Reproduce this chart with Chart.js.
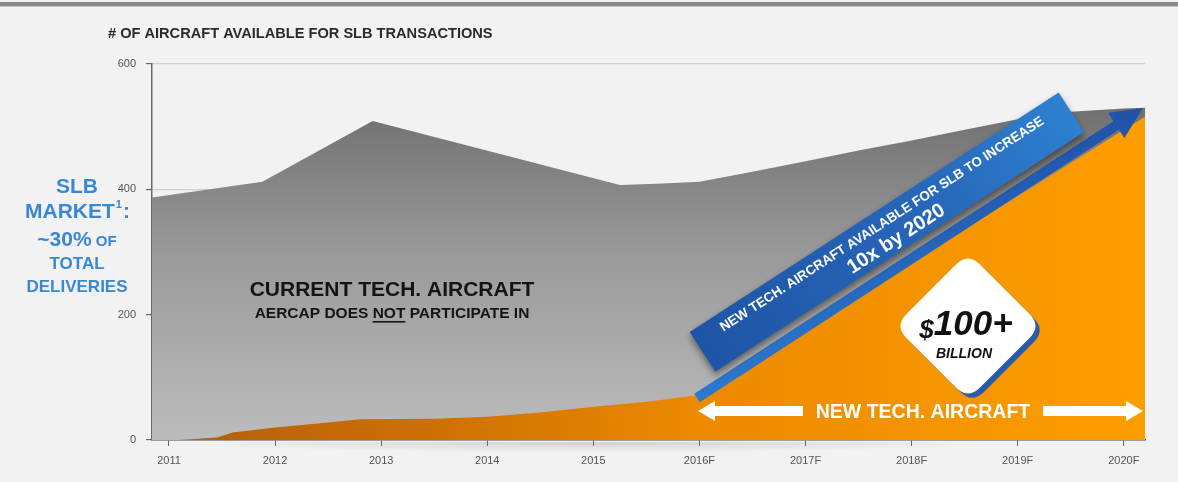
<!DOCTYPE html>
<html>
<head>
<meta charset="utf-8">
<script src="https://cdn.jsdelivr.net/npm/chart.js@4.4.1/dist/chart.umd.min.js"></script>
<style>
  html, body { margin: 0; padding: 0; background: #f2f2f2; }
  canvas { display: block; }
</style>
</head>
<body>
<canvas id="slb" width="1178" height="482"></canvas>
<script>
// x axis: one tick per year, forecast years marked with F
const yearTicks = [2011, 2012, 2013, 2014, 2015, 2016, 2017, 2018, 2019, 2020];
const yearLabels = ['2011', '2012', '2013', '2014', '2015', '2016F', '2017F', '2018F', '2019F', '2020F'];
const yAxisTicks = [0, 200, 400, 600];

// total aircraft available for SLB (grey area)
const totalYears = [2010.84, 2011.88, 2012.92, 2015.25, 2015.6, 2016, 2016.5, 2017, 2017.5, 2018, 2018.5, 2019, 2019.5, 2020, 2020.2];
const totalCounts = [387, 412, 509, 407, 409, 412, 428, 445, 462, 478, 495, 512, 524, 529, 530];

// new tech aircraft (orange area)
const newTechYears = [2010.84, 2011.1, 2011.45, 2011.6, 2012, 2012.5, 2012.8, 2013.5, 2014, 2014.5, 2015, 2015.5, 2016, 2017, 2018, 2019, 2020, 2020.2];
const newTechCounts = [0, 0, 4, 12, 20, 28, 33, 34, 37, 44, 53, 61, 72, 178, 284, 389, 495, 516];

const FONT = '"Liberation Sans", Arial, sans-serif';
const BLUE_TEXT = '#3a87d6';

function toPoints(xs, ys) {
    return xs.map((x, i) => ({ x: x, y: ys[i] }));
}

function greyFill(context) {
    const chart = context.chart;
    const area = chart.chartArea;
    if (!area) return '#999';
    const g = chart.ctx.createLinearGradient(0, area.top + 40, 0, area.bottom);
    g.addColorStop(0, '#6f6f6f');
    g.addColorStop(0.45, '#9a9a9a');
    g.addColorStop(1, '#bcbcbc');
    return g;
}

function orangeFill(context) {
    const chart = context.chart;
    const area = chart.chartArea;
    if (!area) return '#f90';
    const g = chart.ctx.createLinearGradient(area.left, 0, area.right, 0);
    g.addColorStop(0, '#b25c0c');
    g.addColorStop(0.3, '#cf7203');
    g.addColorStop(0.55, '#ec8a00');
    g.addColorStop(1, '#fd9e00');
    return g;
}

function roundRect(c, x, y, w, h, r) {
    c.beginPath();
    c.moveTo(x + r, y);
    c.lineTo(x + w - r, y);
    c.quadraticCurveTo(x + w, y, x + w, y + r);
    c.lineTo(x + w, y + h - r);
    c.quadraticCurveTo(x + w, y + h, x + w - r, y + h);
    c.lineTo(x + r, y + h);
    c.quadraticCurveTo(x, y + h, x, y + h - r);
    c.lineTo(x, y + r);
    c.quadraticCurveTo(x, y, x + r, y);
    c.closePath();
}

// white horizontal arrow, dir = -1 points left, 1 points right
function whiteArrow(c, xFrom, xTip, yc, dir) {
    const headLen = 17;
    const headX = xTip - dir * headLen;
    c.beginPath();
    c.moveTo(xFrom, yc - 5);
    c.lineTo(headX, yc - 5);
    c.lineTo(headX, yc - 10);
    c.lineTo(xTip, yc);
    c.lineTo(headX, yc + 10);
    c.lineTo(headX, yc + 5);
    c.lineTo(xFrom, yc + 5);
    c.closePath();
    c.fill();
}

const backdrop = {
    id: 'backdrop',
    beforeDraw(chart) {
        const c = chart.ctx;
        c.save();
        c.fillStyle = '#f2f2f2';
        c.fillRect(0, 0, chart.width, chart.height);
        c.fillStyle = '#8a8a8a';
        c.fillRect(0, 2, chart.width, 4);
        c.fillStyle = '#c8c8c8';
        c.fillRect(0, 6, chart.width, 1);

        // soft shadow under the baseline, fading at both ends
        const a = chart.chartArea;
        c.save();
        c.translate((a.left + a.right) / 2 - 60, a.bottom + 2);
        c.scale(1, 0.025);
        const sh = c.createRadialGradient(0, 0, 0, 0, 0, 420);
        sh.addColorStop(0, 'rgba(0,0,0,0.14)');
        sh.addColorStop(1, 'rgba(0,0,0,0)');
        c.fillStyle = sh;
        c.fillRect(-420, 0, 840, 420);
        c.restore();

        // title
        c.fillStyle = '#2b2b2b';
        c.font = 'bold 14.6px ' + FONT;
        c.textBaseline = 'alphabetic';
        c.fillText('# OF AIRCRAFT AVAILABLE FOR SLB TRANSACTIONS', 108, 38);

        // side note in blue
        c.fillStyle = BLUE_TEXT;
        c.textAlign = 'center';
        c.font = 'bold 21px ' + FONT;
        c.fillText('SLB', 77, 193);
        c.textAlign = 'left';
        const m1 = 'MARKET';
        const w1 = c.measureText(m1).width;
        c.font = 'bold 11px ' + FONT;
        const wSup = c.measureText('1').width;
        c.font = 'bold 21px ' + FONT;
        const wCol = c.measureText(':').width;
        let sx = 77 - (w1 + wSup + 1 + wCol) / 2;
        c.fillText(m1, sx, 218);
        c.font = 'bold 11px ' + FONT;
        c.fillText('1', sx + w1 + 1, 208);
        c.font = 'bold 21px ' + FONT;
        c.fillText(':', sx + w1 + wSup + 2, 218);

        c.font = 'bold 21px ' + FONT;
        const p1 = '~30%';
        const wp1 = c.measureText(p1).width;
        c.font = 'bold 15px ' + FONT;
        const p2 = ' OF';
        const wp2 = c.measureText(p2).width;
        sx = 77 - (wp1 + wp2) / 2;
        c.font = 'bold 21px ' + FONT;
        c.fillText(p1, sx, 246);
        c.font = 'bold 15px ' + FONT;
        c.fillText(p2, sx + wp1, 246);

        c.textAlign = 'center';
        c.font = 'bold 17px ' + FONT;
        c.fillText('TOTAL', 77, 269);
        c.fillText('DELIVERIES', 77, 292);
        c.restore();
    }
};

const callouts = {
    id: 'callouts',
    afterDatasetsDraw(chart) {
        const c = chart.ctx;
        c.save();

        // label inside the grey area
        c.fillStyle = '#141414';
        c.textAlign = 'center';
        c.font = 'bold 21px ' + FONT;
        c.fillText('CURRENT TECH. AIRCRAFT', 392, 296);
        c.font = 'bold 15.5px ' + FONT;
        c.textAlign = 'left';
        const s1 = 'AERCAP DOES ', s2 = 'NOT', s3 = ' PARTICIPATE IN';
        const w1 = c.measureText(s1).width, w2 = c.measureText(s2).width, w3 = c.measureText(s3).width;
        let x0 = 392 - (w1 + w2 + w3) / 2;
        c.fillText(s1, x0, 318);
        c.fillText(s2, x0 + w1, 318);
        c.fillText(s3, x0 + w1 + w2, 318);
        c.fillRect(x0 + w1, 321, w2, 1.6);

        // growth arrow along the orange edge
        const ang = Math.atan2(108 - 398, 1143 - 697);
        const len = Math.hypot(1143 - 697, 108 - 398);
        c.save();
        c.translate(697, 398);
        c.rotate(ang);
        const ag = c.createLinearGradient(0, 0, len, 0);
        ag.addColorStop(0, '#2b79cd');
        ag.addColorStop(1, '#2152a8');
        c.fillStyle = ag;
        c.beginPath();
        c.moveTo(0, -5);
        c.lineTo(len - 32, -5);
        c.lineTo(len - 32, -15);
        c.lineTo(len, 0);
        c.lineTo(len - 32, 15);
        c.lineTo(len - 32, 5);
        c.lineTo(0, 5);
        c.closePath();
        c.fill();
        c.restore();

        // rotated banner
        c.save();
        c.translate(887, 232);
        c.rotate(-33 * Math.PI / 180);
        c.shadowColor = 'rgba(0,0,0,0.45)';
        c.shadowBlur = 7;
        c.shadowOffsetY = 4;
        const bg = c.createLinearGradient(-220, 0, 220, 0);
        bg.addColorStop(0, '#1f55a6');
        bg.addColorStop(0.6, '#2766b9');
        bg.addColorStop(1, '#2e80d0');
        c.fillStyle = bg;
        c.fillRect(-220, -23.5, 440, 47);
        c.shadowColor = 'transparent';
        c.fillStyle = '#ffffff';
        c.textAlign = 'center';
        c.textBaseline = 'middle';
        c.font = 'bold 13.4px ' + FONT;
        c.fillText('NEW TECH. AIRCRAFT AVAILABLE FOR SLB TO INCREASE', 0, -9);
        c.font = 'bold 20px ' + FONT;
        c.fillText('10x by 2020', 4, 11);
        c.restore();

        // $100+ badge
        c.save();
        c.translate(968, 326);
        c.rotate(Math.PI / 4);
        c.fillStyle = '#2c5aa8';
        roundRect(c, -52 + 6, -52 + 0, 104, 104, 17);
        c.fill();
        c.fillStyle = '#ffffff';
        roundRect(c, -52, -52, 104, 104, 17);
        c.fill();
        c.restore();

        c.fillStyle = '#111111';
        c.textBaseline = 'alphabetic';
        c.textAlign = 'left';
        c.font = 'italic bold 26px ' + FONT;
        const wd = c.measureText('$').width;
        c.font = 'italic bold 35px ' + FONT;
        const wn = c.measureText('100+').width;
        const bx = 966 - (wd + wn) / 2;
        c.font = 'italic bold 26px ' + FONT;
        c.fillText('$', bx, 338);
        c.font = 'italic bold 35px ' + FONT;
        c.fillText('100+', bx + wd, 335);
        c.textAlign = 'center';
        c.font = 'italic bold 14px ' + FONT;
        c.fillText('BILLION', 964, 358);

        // new tech span arrows
        c.fillStyle = '#ffffff';
        whiteArrow(c, 803, 698, 411, -1);
        whiteArrow(c, 1043, 1143, 411, 1);
        c.font = 'bold 19.5px ' + FONT;
        c.textAlign = 'center';
        c.fillText('NEW TECH. AIRCRAFT', 923, 418);

        c.restore();
    }
};

const chart = new Chart(document.getElementById('slb'), {
    type: 'line',
    data: {
        datasets: [
            {
                label: 'New tech. aircraft',
                data: toPoints(newTechYears, newTechCounts),
                fill: 'origin',
                backgroundColor: orangeFill,
                borderWidth: 0,
                pointRadius: 0,
                tension: 0
            },
            {
                label: 'Total aircraft available',
                data: toPoints(totalYears, totalCounts),
                fill: 'origin',
                backgroundColor: greyFill,
                borderWidth: 0,
                pointRadius: 0,
                tension: 0
            }
        ]
    },
    options: {
        responsive: false,
        animation: false,
        layout: { padding: { left: 112, right: 33, top: 64, bottom: 12 } },
        plugins: {
            legend: { display: false },
            tooltip: { enabled: false }
        },
        scales: {
            x: {
                type: 'linear',
                min: totalYears[0],
                max: totalYears[totalYears.length - 1],
                z: 1,
                afterBuildTicks: (scale) => {
                    scale.ticks = yearTicks.map(v => ({ value: v }));
                },
                afterFit: (scale) => { scale.height = 30; },
                ticks: {
                    autoSkip: false,
                    maxRotation: 0,
                    padding: 8,
                    color: '#555555',
                    font: { family: FONT, size: 11 },
                    callback: (v) => yearLabels[yearTicks.indexOf(v)]
                },
                grid: {
                    drawOnChartArea: false,
                    tickLength: 6,
                    tickColor: '#666666'
                },
                border: { display: true, color: '#555555', width: 1.5 }
            },
            y: {
                min: 0,
                max: 600,
                afterBuildTicks: (scale) => {
                    scale.ticks = yAxisTicks.map(v => ({ value: v }));
                },
                afterFit: (scale) => { scale.width = 40; },
                ticks: {
                    padding: 10,
                    color: '#555555',
                    font: { family: FONT, size: 11 }
                },
                grid: {
                    color: '#cfcfcf',
                    lineWidth: 1.2,
                    tickLength: 6,
                    tickColor: '#666666'
                },
                border: { display: true, color: '#6a6a6a', width: 1.5 }
            }
        }
    },
    plugins: [backdrop, callouts]
});
</script>
</body>
</html>
